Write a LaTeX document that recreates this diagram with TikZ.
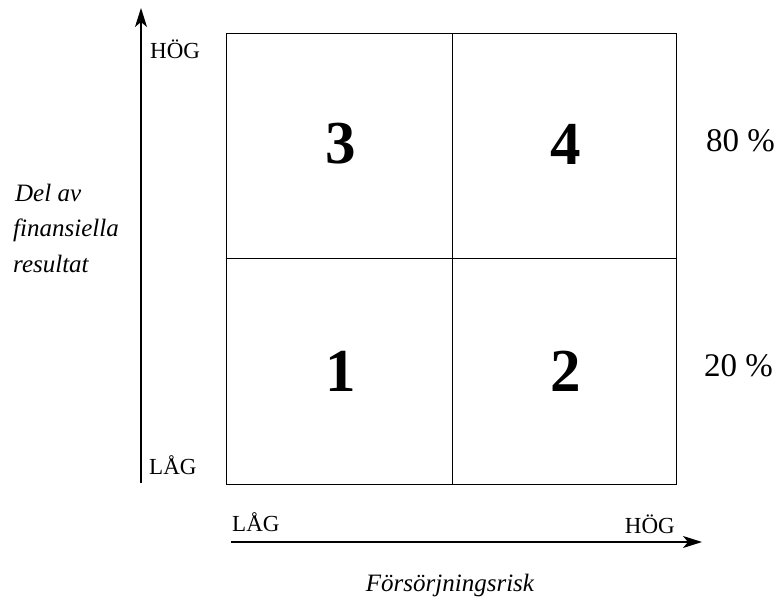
\documentclass[tikz,border=0pt]{standalone}
\usepackage{fontspec}
\setmainfont{Liberation Serif}
\usetikzlibrary{arrows.meta}
\tikzset{
  axis/.style={-{Stealth[length=19pt,width=12pt,inset=5pt]},line width=1.2pt},
  cell/.style={line width=1pt},
  tick/.style={font=\fontsize{23}{26}\selectfont,inner sep=0pt},
  num/.style={font=\fontsize{61}{70}\selectfont\bfseries,inner sep=0pt},
  share/.style={font=\fontsize{33}{36}\selectfont,inner sep=0pt},
  axislabel/.style={font=\fontsize{25}{34}\selectfont\itshape,inner sep=0pt}
}

\begin{document}
\begin{tikzpicture}[x=1pt,y=1pt]
            \useasboundingbox (0,0) rectangle (779,602);
            % the four quadrants
            \draw[cell] (226,117) rectangle (676,568);
            \draw[cell] (452,117)--(452,568);
            \draw[cell] (226,343)--(676,343);
            \node[num] (q3) at (341,458) {3};
            \node[num] (q4) at (566,458) {4};
            \node[num] (q1) at (341,231) {1};
            \node[num] (q2) at (566,231) {2};
            % axes
            \coordinate (yfrom) at (141,119);
            \coordinate (yto) at (141,594);
            \coordinate (xfrom) at (231,60);
            \coordinate (xto) at (702,60);
            \draw[axis] (yfrom)--(yto);
            \draw[axis] (xfrom)--(xto);
            \node[tick,anchor=base west] (yhigh) at (150,543) {HÖG};
            \node[tick,anchor=base west] (ylow) at (149,127) {LÅG};
            \node[tick,anchor=base west] (xlow) at (232,70) {LÅG};
            \node[tick,anchor=base east] (xhigh) at (675,68) {HÖG};
            \node[axislabel,anchor=base west] (ylabel1) at (15,400) {Del av};
            \node[axislabel,anchor=base west] (ylabel2) at (13,365) {finansiella};
            \node[axislabel,anchor=base west] (ylabel3) at (13,329) {resultat};
            \node[axislabel,anchor=base] (xlabel) at (450,10) {Försörjningsrisk};
            % shares on the right
            \node[share,anchor=base west] (top) at (706,450) {80 \%};
            \node[share,anchor=base west] (bottom) at (704,225) {20 \%};
        \end{tikzpicture}
\end{document}
